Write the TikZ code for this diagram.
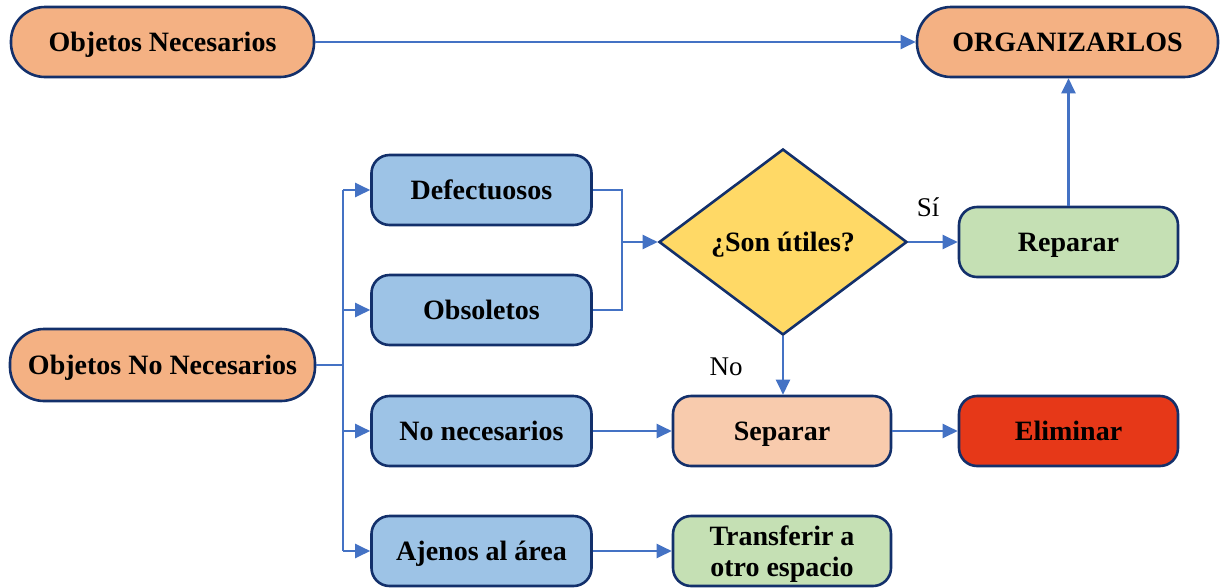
\documentclass[tikz,border=0pt]{standalone}
\usepackage{fontspec}
\setmainfont{Liberation Serif}
\usetikzlibrary{arrows.meta,shapes.geometric}
\definecolor{edgeblue}{HTML}{13306B}
\definecolor{linkblue}{HTML}{4472C4}
\definecolor{pillorange}{HTML}{F4B183}
\definecolor{boxblue}{HTML}{9DC3E6}
\definecolor{decyellow}{HTML}{FFD966}
\definecolor{boxgreen}{HTML}{C5E0B4}
\definecolor{boxpeach}{HTML}{F8CBAD}
\definecolor{boxred}{HTML}{E63818}
\begin{document}
\begin{tikzpicture}[x=1pt,y=-1pt,
  base/.style={draw=edgeblue,line width=2.6pt,inner sep=0pt,align=center,
    text height=19.5pt,text depth=0pt,
    font=\fontsize{28}{31}\selectfont\bfseries},
  pill/.style={base,fill=pillorange,rounded corners=34pt,minimum width=303pt,minimum height=70pt},
  card/.style={base,rounded corners=18pt,minimum width=220pt,minimum height=70pt},
  decision/.style={base,diamond,fill=decyellow,minimum width=248pt,minimum height=186pt,aspect=1.33},
  link/.style={draw=linkblue,line width=2.2pt},
  arr/.style={link,-{Triangle[length=15pt,width=14pt]}},
  tag/.style={font=\fontsize{27}{30}\selectfont}]
\useasboundingbox (0,0) rectangle (1223,587);

% top row
\node[pill] (nec) at (162.5,42) {Objetos Necesarios};
\node[pill,minimum width=301pt] (org) at (1067.5,42) {ORGANIZARLOS};

% left source and its categories
\node[pill,minimum width=305pt,minimum height=72pt] (nonec) at (162.5,365) {Objetos No Necesarios};
\node[card,fill=boxblue] (def) at (481.5,190) {Defectuosos};
\node[card,fill=boxblue] (obs) at (481.5,310) {Obsoletos};
\node[card,fill=boxblue] (nn)  at (481.5,431) {No necesarios};
\node[card,fill=boxblue] (aje) at (481.5,551) {Ajenos al área};

% decision and outcomes
\node[decision] (q) at (783,242) {¿Son útiles?};
\node[card,fill=boxgreen,minimum width=219pt] (rep) at (1068.5,242) {Reparar};
\node[card,fill=boxpeach,minimum width=218pt] (sep) at (782,431) {Separar};
\node[card,fill=boxred,minimum width=219pt] (eli) at (1068.5,431) {Eliminar};
\node[card,fill=boxgreen,minimum width=218pt,text height=50.5pt] (tra) at (782,551) {Transferir a\\otro espacio};

\node[tag] (si) at (928,207) {Sí};
\node[tag] (no) at (726,367) {No};

% junction points
\coordinate (bus) at (343,365);
\coordinate (mrg) at (622,242);

% connectors
\draw[arr] (nec.east) -- (org.west);
\draw[link] (nonec.east) -- (bus);
\draw[link] (bus |- def.west) -- (bus |- aje.west);
\draw[arr] (bus |- def.west) -- (def.west);
\draw[arr] (bus |- obs.west) -- (obs.west);
\draw[arr] (bus |- nn.west) -- (nn.west);
\draw[arr] (bus |- aje.west) -- (aje.west);
\draw[link] (def.east) -| (mrg);
\draw[link] (obs.east) -| (mrg);
\draw[arr] (mrg) -- (q.west);
\draw[arr] (q.east) -- (rep.west);
\draw[arr] (rep.north) -- (rep.north |- org.south);
\draw[arr] (q.south) -- (q.south |- sep.north);
\draw[arr] (nn.east) -- (sep.west);
\draw[arr] (sep.east) -- (eli.west);
\draw[arr] (aje.east) -- (tra.west);
\end{tikzpicture}
\end{document}
